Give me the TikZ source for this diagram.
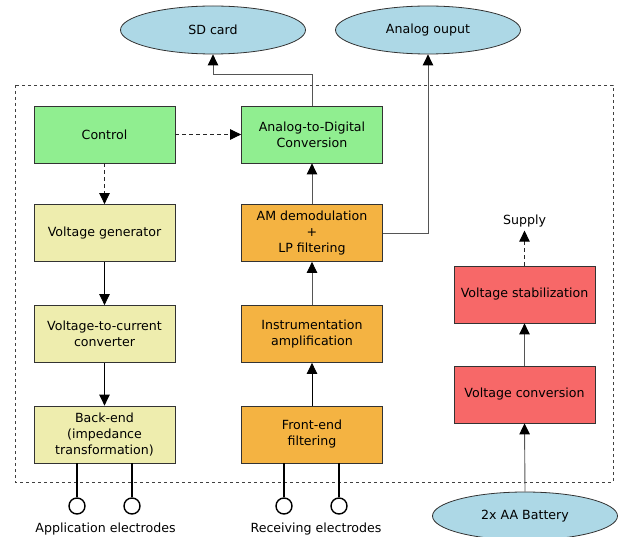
\documentclass[tikz,border=0pt]{standalone}
\usepackage{fontspec}
\setmainfont{DejaVu Sans}
\usetikzlibrary{shapes.geometric,arrows.meta}
\definecolor{cgreen}{HTML}{90EE90}
\definecolor{cyellow}{HTML}{EEEDAE}
\definecolor{corange}{HTML}{F4B342}
\definecolor{cred}{HTML}{F76868}
\definecolor{cblue}{HTML}{ADD8E6}
\definecolor{cline}{HTML}{555555}
\begin{document}
\begin{tikzpicture}[x=1pt,y=-1pt,
  font=\fontsize{12.6}{16}\selectfont,
  >={Triangle[length=11pt,width=10.5pt,color=black]},
  box/.style={draw=black!80, line width=0.8pt, minimum width=141pt, minimum height=57pt, align=center, inner sep=0pt},
  oval/.style={ellipse, draw=black!80, line width=0.8pt, fill=cblue, minimum width=185pt, minimum height=48pt, inner sep=0pt},
  conn/.style={draw=cline, line width=0.9pt, ->},
  dconn/.style={conn, draw=black!85, dash pattern=on 4pt off 3pt},
  elec/.style={draw=black, line width=1.4pt},
  electrode/.style={circle, draw=black, line width=1.4pt, fill=white, minimum size=16pt, inner sep=0pt}]
\useasboundingbox (0,0) rectangle (618,537);
\draw[draw=black!75, line width=0.8pt, dash pattern=on 3pt off 3pt] (15,85) rectangle (613,482);

\node[oval] (SD) at (213,30) {SD card};
\node[oval] (AO) at (428,30) {Analog ouput};
\node[oval] (BAT) at (525,516) {2x AA Battery};

\node[box, fill=cgreen] (CTL) at (104.5,134.5) {Control};
\node[box, fill=cgreen] (ADC) at (312,134.5) {Analog-to-Digital\\Conversion};
\node[box, fill=cyellow] (VG) at (104.5,233) {Voltage generator};
\node[box, fill=corange] (AM) at (312,233) {AM demodulation\\+\\LP filtering};
\node[box, fill=cyellow] (V2C) at (104.5,334) {Voltage-to-current\\converter};
\node[box, fill=corange] (IA) at (312,334) {Instrumentation\\amplification};
\node[box, fill=cyellow] (BE) at (104.5,434.5) {Back-end\\(impedance\\transformation)};
\node[box, fill=corange] (FE) at (312,434.5) {Front-end\\filtering};
\node[box, fill=cred] (VS) at (524.5,294.5) {Voltage stabilization};
\node[box, fill=cred] (VCV) at (524.5,394.5) {Voltage conversion};
\node (SUP) at (524.5,221) {Supply};

\coordinate (k1) at (213,74);
\draw[conn] (ADC.north) |- (k1) -- (SD.south);
\draw[conn] (AM.east) -| (AO.south);
\draw[dconn] (CTL.east) -- (ADC.west);
\draw[dconn] (CTL.south) -- (VG.north);
\draw[conn, draw=black] (VG.south) -- (V2C.north);
\draw[conn, draw=black] (V2C.south) -- (BE.north);
\draw[conn] (AM.north) -- (ADC.south);
\draw[conn] (IA.north) -- (AM.south);
\draw[conn, draw=black] (FE.north) -- (IA.south);
\draw[conn] (VCV.north) -- (VS.south);
\draw[conn] (BAT.north) -- (VCV.south);
\draw[dconn] (VS.north) -- (SUP.south);

\node[electrode] (E1) at (77,506) {};
\node[electrode] (E2) at (132,506) {};
\node[electrode] (E3) at (284,506) {};
\node[electrode] (E4) at (339,506) {};
\draw[elec] (E1.north) -- (E1.north |- BE.south);
\draw[elec] (E2.north) -- (E2.north |- BE.south);
\draw[elec] (E3.north) -- (E3.north |- FE.south);
\draw[elec] (E4.north) -- (E4.north |- FE.south);
\node (AEL) at (105.5,529) {Application electrodes};
\node (REL) at (316,529) {Receiving electrodes};
\end{tikzpicture}
\end{document}
